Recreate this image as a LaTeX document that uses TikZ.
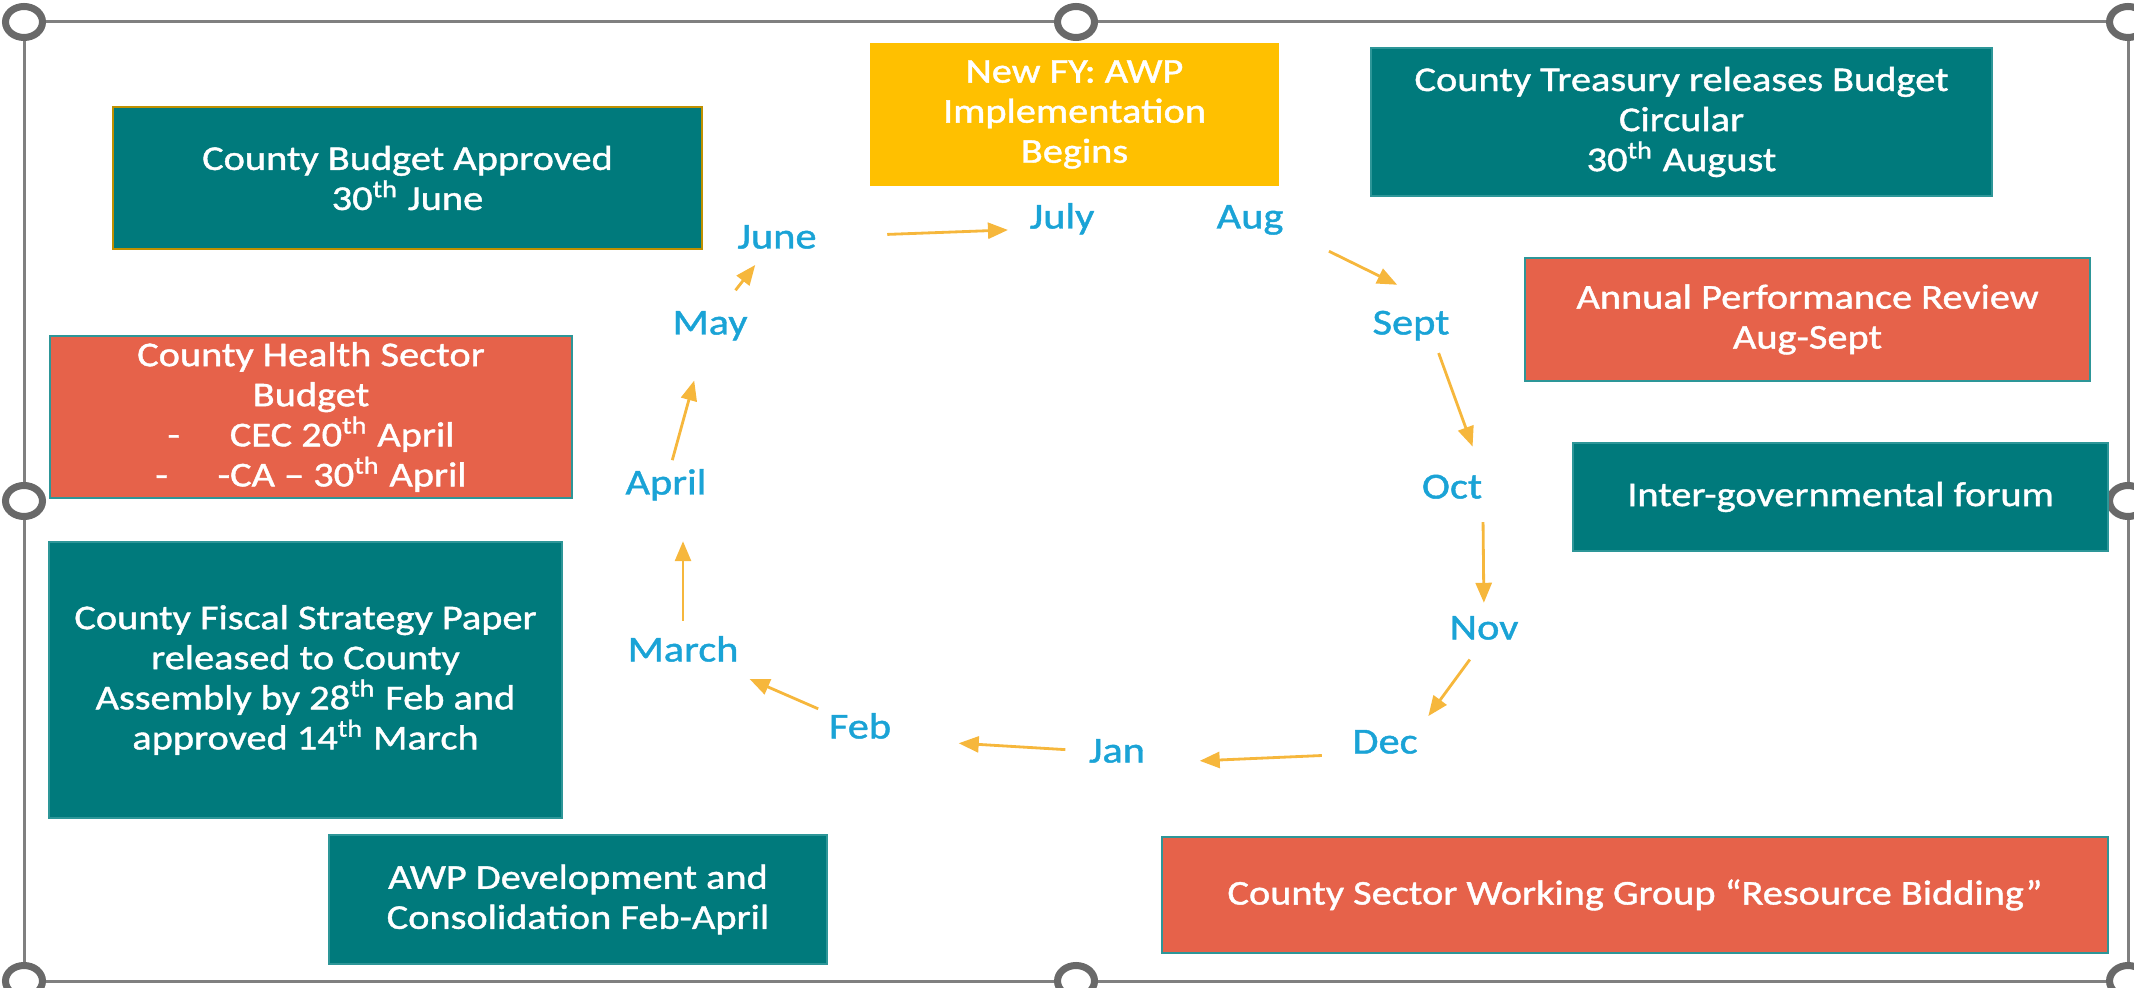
\documentclass[tikz,border=0pt]{standalone}
\usepackage{fontspec}
\setmainfont{Carlito}[FakeStretch=1.16, FakeBold=1.2]
\usetikzlibrary{arrows.meta}

\definecolor{boxteal}{RGB}{0,122,124}
\definecolor{boxred}{RGB}{230,98,74}
\definecolor{boxgold}{RGB}{255,192,0}
\definecolor{edgegold}{RGB}{191,144,0}
\definecolor{edgeteal}{RGB}{45,150,152}
\definecolor{monthblue}{RGB}{26,163,214}
\definecolor{flowarrow}{RGB}{246,183,60}
\definecolor{framegray}{RGB}{128,128,128}
\definecolor{handlegray}{RGB}{105,105,105}

\tikzset{
  stage/.style={rectangle, inner sep=0pt, align=center, text=white,
    font=\fontsize{9.9pt}{11.4pt}\selectfont},
  tealstage/.style={stage, fill=boxteal, draw=edgeteal, line width=0.5pt},
  redstage/.style={stage, fill=boxred, draw=edgeteal, line width=0.6pt},
  goldstage/.style={stage, fill=boxgold},
  month/.style={inner sep=0pt, text=monthblue, text height=0.23cm, text depth=0pt,
    font=\fontsize{10.4pt}{12pt}\selectfont},
  flow/.style={draw=flowarrow, line width=0.8pt, -{Triangle[length=0.2cm,width=0.16cm]}},
  handle/.style={draw=handlegray, fill=white, line width=2pt}
}

\begin{document}
\begin{tikzpicture}
\useasboundingbox (0,0) rectangle (21.34,-9.88);
\draw [framegray, line width=0.03cm] (0.24,-0.22) rectangle (21.28,-9.81);
\draw [handle] (0.24,-0.22) ellipse [x radius=0.185cm, y radius=0.155cm];
\draw [handle] (10.76,-0.22) ellipse [x radius=0.185cm, y radius=0.155cm];
\draw [handle] (21.28,-0.22) ellipse [x radius=0.185cm, y radius=0.155cm];
\draw [handle] (0.24,-5.01) ellipse [x radius=0.185cm, y radius=0.155cm];
\draw [handle] (21.28,-5.01) ellipse [x radius=0.185cm, y radius=0.155cm];
\draw [handle] (0.24,-9.81) ellipse [x radius=0.185cm, y radius=0.155cm];
\draw [handle] (10.76,-9.81) ellipse [x radius=0.185cm, y radius=0.155cm];
\draw [handle] (21.28,-9.81) ellipse [x radius=0.185cm, y radius=0.155cm];

\node [tealstage, draw=edgegold, line width=0.7pt, minimum width=5.89cm, minimum height=1.42cm] (approved) at (4.075,-1.78) {County Budget Approved\\30\textsuperscript{th} June};
\node [redstage, minimum width=5.22cm, minimum height=1.62cm] (health) at (3.11,-4.17) {County Health Sector\\Budget\\-\hspace{0.5cm}CEC 20\textsuperscript{th} April\\-\hspace{0.5cm}-CA -- 30\textsuperscript{th} April};
\node [tealstage, minimum width=5.13cm, minimum height=2.76cm] (cfsp) at (3.055,-6.80) {County Fiscal Strategy Paper\\released to County\\Assembly by 28\textsuperscript{th} Feb and\\approved 14\textsuperscript{th} March};
\node [tealstage, minimum width=4.98cm, minimum height=1.29cm] (awpdev) at (5.78,-8.995) {AWP Development and\\Consolidation Feb-April};
\node [goldstage, minimum width=4.09cm, minimum height=1.43cm] (newfy) at (10.745,-1.145) {New FY: AWP\\Implementation\\Begins};
\node [tealstage, minimum width=6.21cm, minimum height=1.48cm] (circular) at (16.815,-1.22) {County Treasury releases Budget\\Circular\\30\textsuperscript{th} August};
\node [redstage, minimum width=5.65cm, minimum height=1.23cm] (review) at (18.075,-3.195) {Annual Performance Review\\Aug-Sept};
\node [tealstage, minimum width=5.35cm, minimum height=1.08cm] (forum) at (18.405,-4.97) {Inter-governmental forum};
\node [redstage, minimum width=9.46cm, minimum height=1.16cm] (bidding) at (16.35,-8.95) {County Sector Working Group ``Resource Bidding''};

\node [month] (june) at (7.77,-2.37) {June};
\node [month] (july) at (10.62,-2.17) {July};
\node [month] (aug) at (12.50,-2.17) {Aug};
\node [month] (sept) at (14.11,-3.23) {Sept};
\node [month] (oct) at (14.52,-4.87) {Oct};
\node [month] (nov) at (14.84,-6.28) {Nov};
\node [month] (dec) at (13.85,-7.42) {Dec};
\node [month] (jan) at (11.17,-7.51) {Jan};
\node [month] (feb) at (8.60,-7.27) {Feb};
\node [month] (march) at (6.83,-6.50) {March};
\node [month] (april) at (6.66,-4.83) {April};
\node [month] (may) at (7.10,-3.23) {May};

\draw [flow, shorten <=0.70cm, shorten >=0.21cm] (june.east) -- (july.south west);
\draw [flow, shorten <=0.50cm, shorten >=0.59cm] (aug.south east) -- (sept.north east);
\draw [flow, shorten <=0.19cm, shorten >=0.30cm] (sept.-30) -- (oct.north east);
\draw [flow, shorten <=0.23cm, shorten >=0.13cm] (oct.south east) -- (nov.north);
\draw [flow, shorten <=0.24cm, shorten >=0.17cm] (nov.south) -- (dec.north east);
\draw [flow, shorten <=0.30cm, shorten >=0.54cm] (dec.south west) -- (jan.south east);
\draw [flow, shorten <=0.23cm, shorten >=0.67cm] (jan.west) -- (feb.south east);
\draw [flow, shorten <=0.15cm, shorten >=0.42cm] (feb) -- (march);
\draw [flow, shorten <=0.17cm, shorten >=0.46cm] (march.north) -- (march.north |- april.south);
\draw [flow, shorten <=0.11cm, shorten >=0.47cm] (april) -- (may);
\draw [flow, shorten <=0.26cm, shorten >=0.20cm] (may) -- (june);
\end{tikzpicture}
\end{document}
